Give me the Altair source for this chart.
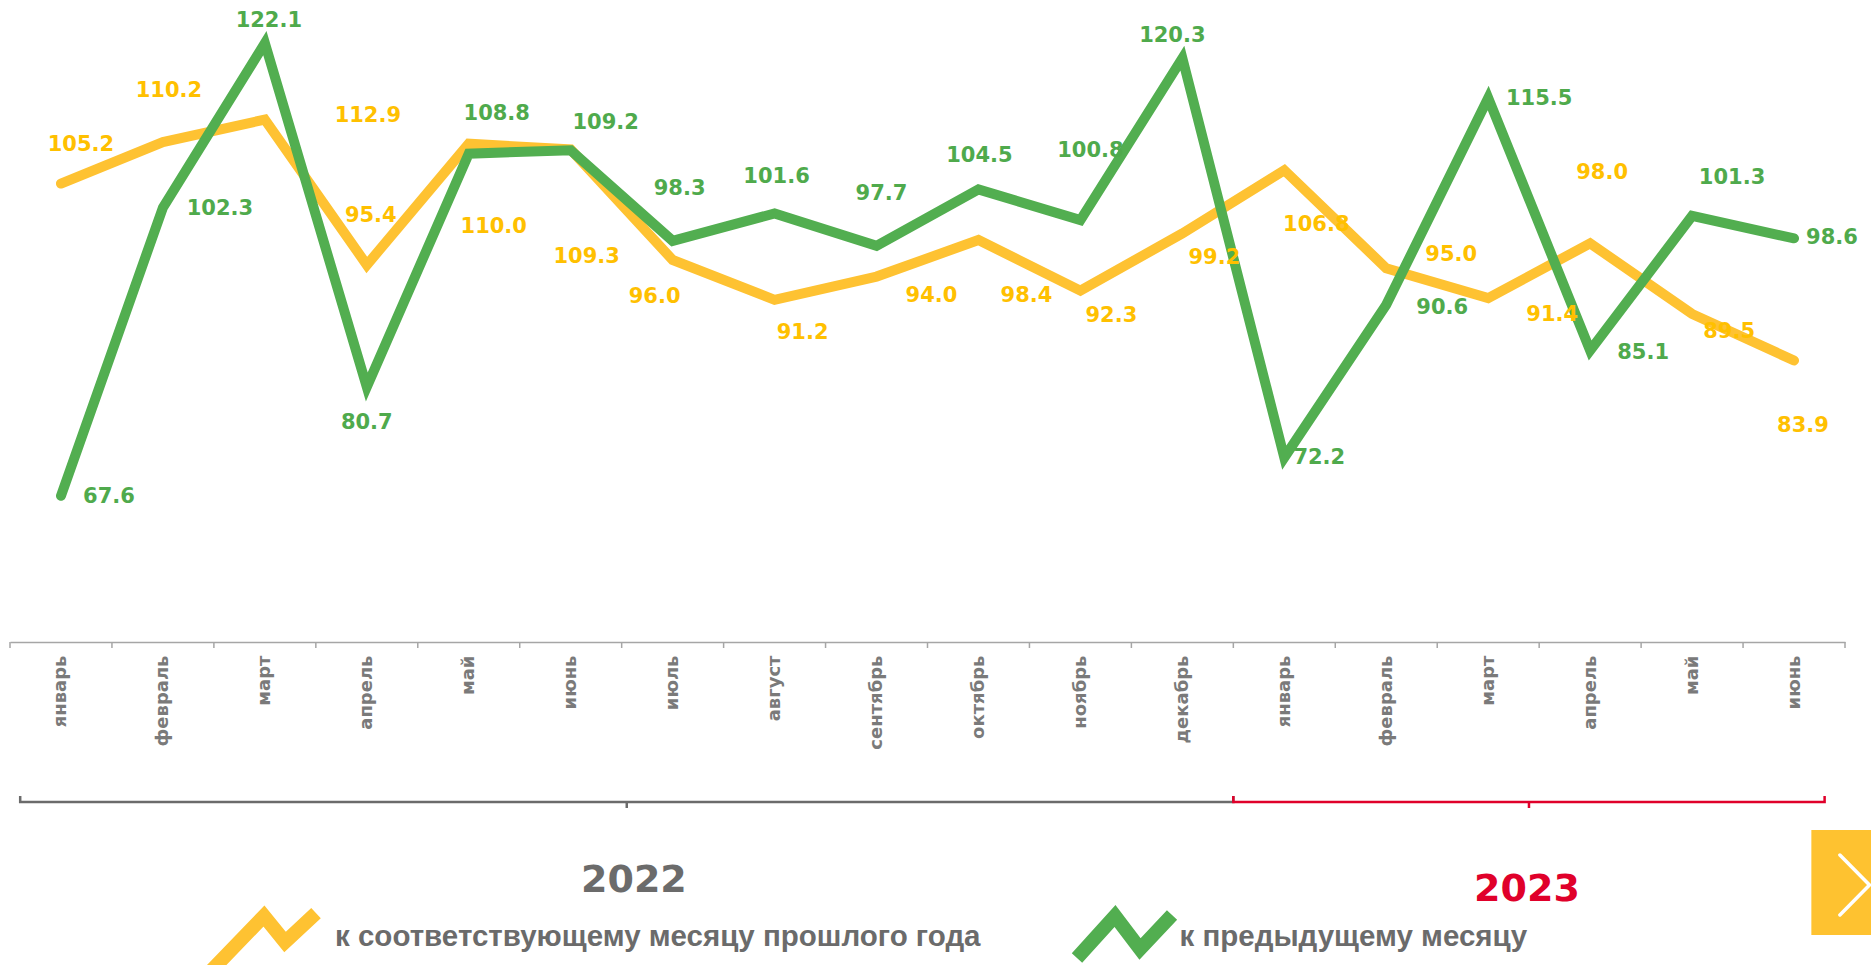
import json
import altair as alt
import pandas as pd

# ---------------- data ----------------
months = ["январь", "февраль", "март", "апрель", "май", "июнь", "июль", "август",
          "сентябрь", "октябрь", "ноябрь", "декабрь",
          "январь", "февраль", "март", "апрель", "май", "июнь"]
yoy = [105.2, 110.2, 112.9, 95.4, 110.0, 109.3, 96.0, 91.2, 94.0, 98.4, 92.3, 99.2,
       106.8, 95.0, 91.4, 98.0, 89.5, 83.9]
mom = [67.6, 102.3, 122.1, 80.7, 108.8, 109.2, 98.3, 101.6, 97.7, 104.5, 100.8, 120.3,
       72.2, 90.6, 115.5, 85.1, 101.3, 98.6]
series_names = ["к соответствующему месяцу прошлого года", "к предыдущему месяцу"]
years = ["2022", "2023"]
year_from = [0.1, 12.0]      # bracket span, in month slots
year_to = [12.0, 17.8]
year_label_x = [6.12, 14.88]

# ---------------- layout / style ----------------
W, H = 1835, 642
Y0, Y1 = 50.0, 127.3
N = len(months)
PX_X = W / N
PX_Y = H / (Y1 - Y0)

YELLOW_LINE = "#FEC232"
YELLOW_TEXT = "#FFC000"
GREEN_LINE = "#52AE50"
GREEN_TEXT = "#4FAA4C"
GRAY = "#6b6b6b"
RED = "#E0002A"
AXIS_GRAY = "#a6a6a6"

# data-label nudges in pixels relative to their point (dx right, dy down)
yoy_dx = [20, 6, 103, 4, 25, 16, -18, 28, 55, 48, 31, 32, 32, 65, 64, 12, 37, 9]
yoy_dy = [-39, -51, -4, -49, 83, 108, 37, 33, 19, 56, 25, 25, 55, -13, 17, -70, 18, 66]
mom_dx = [48, 57, 4, 0, 28, 35, 7, 2, 5, 1, 10, -10, 35, 56, 51, 53, 40, 38]
mom_dy = [1, 1, -22, 36, -40, -27, -52, -36, -52, -33, -69, -22, 0, 3, 1, 3, -38, 0]

X_SCALE = alt.Scale(domain=[0, N], nice=False, zero=False)
Y_SCALE = alt.Scale(domain=[Y0, Y1], nice=False, zero=False)


def px_below_axis(p):
    """value on the y scale that lies p pixels below the x axis"""
    return Y0 - p / PX_Y


def series_df(values, name, dx, dy):
    return pd.DataFrame({
        "x": [i + 0.5 for i in range(N)],
        "value": values,
        "series": name,
        "lx": [i + 0.5 + d / PX_X for i, d in enumerate(dx)],
        "ly": [v - d / PX_Y for v, d in zip(values, dy)],
        "label": [f"{v:.1f}" for v in values],
    })


yoy_df = series_df(yoy, series_names[0], yoy_dx, yoy_dy)
mom_df = series_df(mom, series_names[1], mom_dx, mom_dy)

label_expr = "split(" + json.dumps(",".join(months), ensure_ascii=False) + ", ',')[floor(datum.value)]"

# the same axis definition is given to every layer so the shared axis merges cleanly
X_AXIS = alt.Axis(
    values=[i + 0.5 for i in range(N)], labelExpr=label_expr, title=None, grid=False,
    domainColor=AXIS_GRAY, domainWidth=1.5, ticks=False,
    labelAngle=270, labelFont="DejaVu Sans", labelFontWeight="bold",
    labelFontSize=18, labelColor="#7a7a7a", labelPadding=13,
    labelOverlap=False, labelFlush=False,
)


def X(field):
    return alt.X(field, scale=X_SCALE, axis=X_AXIS)


def Y(field):
    return alt.Y(field, scale=Y_SCALE, axis=None)


ZIG_Y = "M-0.973,0.655L0.027,-0.382L0.409,0.091L0.973,-0.436"
ZIG_G = "M-0.99,0.4375L-0.198,-0.4375L0.323,0.25L0.99,-0.458"


def legend(x, y, path, size, offset):
    return alt.Legend(
        title=None, orient="none", legendX=x, legendY=y,
        symbolType=path, symbolSize=size, symbolStrokeWidth=14,
        symbolFillColor="transparent",
        labelFont="Liberation Sans", labelFontWeight="bold", labelFontSize=29.5,
        labelColor=GRAY, labelOffset=offset, labelLimit=1500, padding=0,
    )


def line_layer(df, name, color, leg):
    return alt.Chart(df).mark_line(strokeWidth=10, strokeCap="round", strokeJoin="miter").encode(
        x=X("x:Q"), y=Y("value:Q"),
        stroke=alt.Stroke("series:N", scale=alt.Scale(domain=[name], range=[color]), legend=leg),
    )


def text_layer(df, color):
    return alt.Chart(df).mark_text(
        font="DejaVu Sans", fontWeight="bold", fontSize=21, align="center", baseline="middle"
    ).encode(
        x=X("lx:Q"), y=Y("ly:Q"),
        text="label:N",
        color=alt.value(color),
    )


yoy_line = line_layer(yoy_df, series_names[0], YELLOW_LINE,
                      legend(190.5, 875, ZIG_Y, 12100, 10.5))
mom_line = line_layer(mom_df, series_names[1], GREEN_LINE,
                      legend(1059.5, 882, ZIG_G, 9216, 0))

# ---------------- month-slot boundary ticks ----------------
tick_df = pd.DataFrame({"t": list(range(N + 1)),
                        "t_y": [Y0] * (N + 1), "t_y2": [px_below_axis(6)] * (N + 1)})
ticks = alt.Chart(tick_df).mark_rule(color=AXIS_GRAY, strokeWidth=1.5).encode(
    x=X("t:Q"), y=Y("t_y:Q"), y2="t_y2:Q",
)

# ---------------- year brackets ----------------
base = px_below_axis(160)
up = px_below_axis(154)
down = px_below_axis(166)
br_rows = []
for yr, a, b in zip(years, year_from, year_to):
    for k, (xx, yy) in enumerate([(a, up), (a, base), (b, base), (b, up)]):
        br_rows.append({"year": yr, "o": k, "bx": xx, "by": yy})
br_df = pd.DataFrame(br_rows)
mid_df = pd.DataFrame({"year": years,
                       "mx": [(a + b) / 2 for a, b in zip(year_from, year_to)],
                       "my": [base] * 2, "my2": [down] * 2})
year_color = alt.Color("year:N", scale=alt.Scale(domain=years, range=[GRAY, RED]), legend=None)

brackets = alt.Chart(br_df).mark_line(strokeWidth=2.5, strokeJoin="miter").encode(
    x=X("bx:Q"), y=Y("by:Q"),
    order="o:Q", detail="year:N", color=year_color,
)
mid_ticks = alt.Chart(mid_df).mark_rule(strokeWidth=2.5).encode(
    x=X("mx:Q"), y=Y("my:Q"), y2="my2:Q",
    color=year_color,
)
ylab_df = pd.DataFrame({"year": years, "tx": year_label_x,
                        "ty": [px_below_axis(239), px_below_axis(248)]})
year_text = alt.Chart(ylab_df).mark_text(
    font="DejaVu Sans", fontWeight="bold", fontSize=38, align="center", baseline="middle"
).encode(
    x=X("tx:Q"), y=Y("ty:Q"),
    text="year:N", color=year_color,
)

# ---------------- page "next" button at right edge ----------------
btn_df = pd.DataFrame({"bx": [17.67], "bx2": [18.6],
                       "by": [px_below_axis(188)], "by2": [px_below_axis(293)]})
button = alt.Chart(btn_df).mark_rect(color="#FEC230").encode(
    x=X("bx:Q"), x2="bx2:Q",
    y=Y("by:Q"), y2="by2:Q",
)
chev_df = pd.DataFrame({"o": [0, 1, 2], "cx": [17.95, 18.24, 17.95],
                        "cy": [px_below_axis(213), px_below_axis(243), px_below_axis(273)]})
chevron = alt.Chart(chev_df).mark_line(color="white", strokeWidth=3.5, strokeCap="round").encode(
    x=X("cx:Q"), y=Y("cy:Q"),
    order="o:Q",
)

chart = alt.layer(
    yoy_line, mom_line, ticks,
    text_layer(yoy_df, YELLOW_TEXT), text_layer(mom_df, GREEN_TEXT),
    brackets, mid_ticks, year_text, button, chevron,
).resolve_scale(stroke="independent").resolve_legend(stroke="independent").properties(
    width=W, height=H, background="white",
    autosize=alt.AutoSizeParams(type="none"),
    padding={"left": 10, "top": 0, "right": 26, "bottom": 323},
).configure_view(strokeWidth=0)

chart.save("out.html", embed_options={"renderer": "svg", "actions": False})
